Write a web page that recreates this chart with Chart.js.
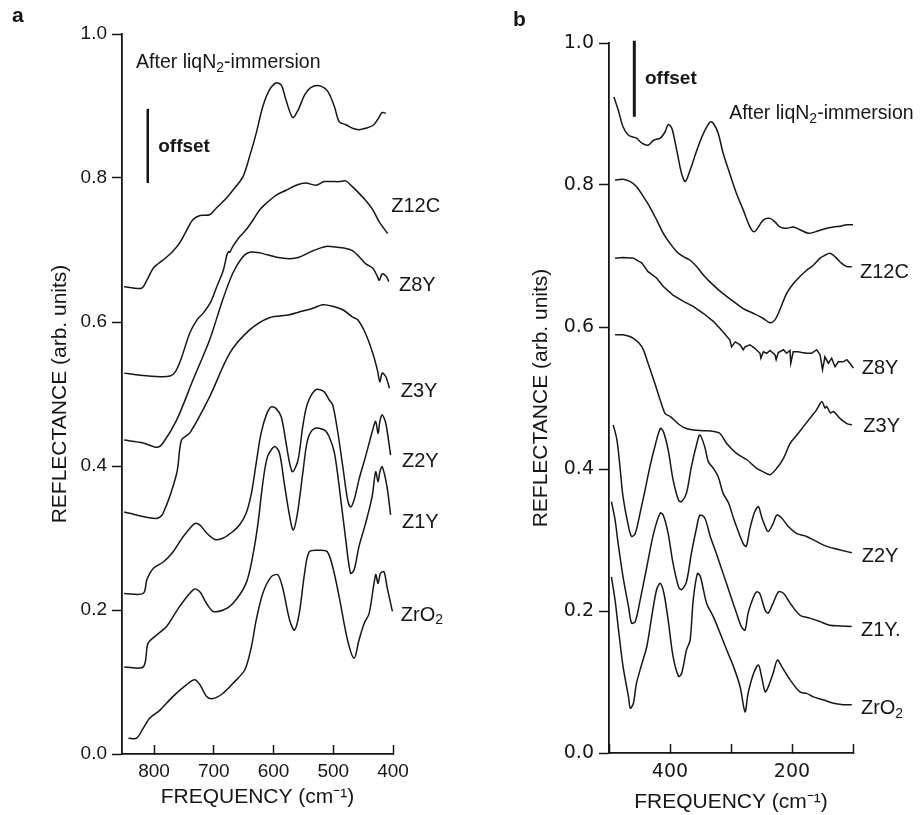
<!DOCTYPE html>
<html>
<head>
<meta charset="utf-8">
<script src="https://cdn.jsdelivr.net/npm/chart.js@4.4.1/dist/chart.umd.min.js"></script>
<style>
  body { margin: 0; background: #fff; }
  #wrap { position: relative; width: 923px; height: 815px; }
  canvas { position: absolute; top: 0; }
  #chartA { left: 0; }
  #chartB { left: 460px; }
</style>
</head>
<body>
<div id="wrap">
  <canvas id="chartA" width="460" height="815"></canvas>
  <canvas id="chartB" width="463" height="815"></canvas>
</div>
<script>
// ---- panel a : 400-850 cm-1, [frequency, reflectance] ----
const aLiq = [[850,0.649],[821,0.647],[812,0.658],[801,0.675],[785,0.686],[770,0.697],[757,0.710],[745,0.728],[735,0.742],[723,0.748],[707,0.749],[696,0.758],[679,0.772],[668,0.783],[651,0.802],[640,0.830],[629,0.862],[618,0.899],[607,0.922],[596,0.932],[587,0.929],[579,0.908],[568,0.884],[559,0.894],[548,0.915],[537,0.926],[523,0.928],[509,0.920],[498,0.899],[490,0.878],[479,0.874],[468,0.869],[457,0.867],[446,0.869],[432,0.874],[423,0.885],[418,0.891],[412,0.890]];
const aZ12C = [[850,0.529],[823,0.526],[790,0.524],[773,0.525],[765,0.530],[755,0.548],[740,0.585],[728,0.603],[718,0.612],[705,0.628],[695,0.649],[684,0.672],[678,0.693],[675,0.698],[673,0.697],[668,0.705],[657,0.718],[646,0.728],[634,0.742],[623,0.756],[612,0.765],[596,0.776],[579,0.783],[562,0.790],[546,0.793],[529,0.790],[515,0.795],[501,0.795],[490,0.795],[479,0.796],[468,0.788],[457,0.779],[446,0.769],[434,0.756],[423,0.739],[409,0.723]];
const aZ8Y = [[850,0.436],[818,0.432],[795,0.426],[785,0.432],[762,0.464],[735,0.519],[707,0.575],[685,0.631],[668,0.668],[652,0.690],[640,0.697],[623,0.696],[595,0.690],[573,0.688],[557,0.690],[534,0.699],[512,0.705],[496,0.704],[479,0.702],[468,0.699],[457,0.691],[446,0.681],[434,0.675],[426,0.663],[423,0.658],[418,0.667],[411,0.663],[407,0.656]];
const aZ3Y = [[850,0.336],[796,0.327],[785,0.334],[762,0.390],[754,0.436],[740,0.446],[707,0.496],[673,0.557],[640,0.589],[607,0.606],[573,0.610],[557,0.614],[534,0.619],[518,0.624],[501,0.622],[484,0.617],[468,0.607],[459,0.603],[446,0.584],[434,0.557],[426,0.533],[422,0.517],[418,0.529],[412,0.524],[406,0.508]];
const aZ2Y = [[850,0.223],[818,0.223],[812,0.242],[801,0.258],[784,0.267],[768,0.281],[751,0.302],[732,0.320],[723,0.318],[712,0.307],[698,0.298],[684,0.300],[668,0.309],[657,0.318],[646,0.334],[637,0.362],[629,0.404],[621,0.445],[612,0.471],[604,0.482],[596,0.480],[587,0.468],[579,0.432],[573,0.404],[568,0.392],[559,0.408],[551,0.455],[543,0.487],[529,0.506],[515,0.503],[507,0.492],[501,0.485],[493,0.450],[484,0.399],[476,0.353],[471,0.343],[465,0.353],[457,0.381],[446,0.413],[434,0.450],[429,0.462],[425,0.445],[422,0.462],[418,0.471],[412,0.459],[404,0.415]];
const aZ1Y = [[850,0.121],[818,0.121],[810,0.154],[796,0.165],[779,0.177],[757,0.205],[733,0.229],[723,0.225],[712,0.209],[701,0.198],[684,0.200],[668,0.209],[646,0.237],[635,0.274],[626,0.320],[618,0.376],[610,0.413],[598,0.427],[590,0.418],[582,0.376],[573,0.330],[567,0.311],[560,0.334],[551,0.390],[543,0.436],[532,0.452],[515,0.450],[507,0.441],[498,0.418],[490,0.371],[479,0.297],[471,0.251],[465,0.256],[457,0.288],[446,0.320],[435,0.357],[429,0.392],[425,0.378],[422,0.392],[418,0.399],[410,0.371],[404,0.332]];
const aZrO2 = [[843,0.022],[829,0.022],[818,0.036],[807,0.050],[790,0.061],[768,0.080],[746,0.096],[732,0.103],[723,0.096],[712,0.080],[701,0.077],[685,0.084],[668,0.098],[648,0.117],[637,0.149],[629,0.186],[618,0.223],[604,0.246],[593,0.249],[585,0.232],[573,0.186],[565,0.172],[557,0.195],[548,0.251],[540,0.281],[523,0.283],[510,0.281],[501,0.260],[490,0.218],[476,0.158],[465,0.133],[457,0.158],[448,0.182],[440,0.195],[429,0.249],[425,0.237],[421,0.251],[415,0.253],[410,0.232],[401,0.198]];
const aOffsetBar = [[810.5,0.793],[810.5,0.896]];

// ---- panel b : 100-500 cm-1 ----
const bLiq = [[492,0.924],[485,0.906],[477,0.882],[468,0.870],[455,0.866],[446,0.859],[436,0.856],[427,0.863],[416,0.866],[408,0.875],[403,0.885],[397,0.880],[389,0.849],[381,0.816],[375,0.805],[367,0.821],[356,0.849],[345,0.873],[334,0.889],[329,0.887],[321,0.873],[313,0.845],[302,0.816],[291,0.788],[280,0.765],[269,0.741],[262,0.734],[255,0.741],[247,0.751],[236,0.753],[228,0.748],[220,0.741],[209,0.739],[198,0.741],[187,0.737],[173,0.732],[162,0.734],[151,0.737],[143,0.739],[132,0.741],[121,0.742],[110,0.744],[100,0.744]];
const bZ12C = [[490,0.807],[477,0.808],[466,0.805],[455,0.798],[444,0.784],[433,0.769],[422,0.751],[411,0.732],[400,0.718],[389,0.706],[378,0.699],[367,0.694],[356,0.685],[345,0.673],[329,0.659],[313,0.647],[296,0.636],[280,0.626],[263,0.619],[247,0.612],[236,0.606],[228,0.610],[220,0.624],[209,0.647],[198,0.661],[187,0.671],[176,0.680],[165,0.687],[154,0.697],[146,0.701],[138,0.704],[132,0.701],[127,0.697],[119,0.690],[110,0.685],[102,0.685]];
const bZ8Y = [[490,0.697],[477,0.698],[460,0.697],[446,0.690],[436,0.678],[422,0.669],[411,0.657],[395,0.645],[378,0.636],[362,0.629],[345,0.619],[329,0.608],[318,0.598],[302,0.582],[299,0.572],[293,0.579],[285,0.575],[280,0.568],[277,0.572],[269,0.575],[261,0.570],[252.5,0.563],[251,0.556],[247,0.565],[241.5,0.563],[236,0.567],[228,0.561],[226,0.554],[222.5,0.564],[214,0.568],[209,0.563],[203.3,0.567],[202,0.549],[198,0.565],[190,0.565],[184,0.564],[176,0.563],[168,0.563],[159.5,0.568],[154,0.561],[150,0.540],[146,0.558],[140.5,0.549],[135,0.556],[129.5,0.544],[124,0.551],[116,0.551],[110,0.554],[105,0.549],[99.5,0.542]];
const bZ3Y = [[490,0.589],[477,0.589],[460,0.584],[446,0.572],[436,0.549],[425,0.521],[416,0.497],[408,0.478],[400,0.474],[384,0.462],[373,0.457],[362,0.455],[345,0.454],[329,0.453],[318,0.450],[307,0.436],[291,0.422],[274,0.413],[258,0.401],[247,0.396],[236,0.392],[225,0.401],[214,0.415],[203,0.436],[192,0.448],[181,0.460],[171,0.471],[160,0.483],[151,0.495],[146,0.486],[143,0.488],[137,0.479],[132,0.481],[121,0.471],[110,0.464],[102,0.462]];
const bZ2Y = [[493,0.462],[487,0.441],[482,0.403],[477,0.361],[468,0.319],[463,0.305],[457,0.309],[449,0.338],[441,0.370],[433,0.403],[425,0.431],[416,0.457],[411,0.453],[403,0.427],[395,0.385],[386,0.356],[381,0.354],[373,0.366],[365,0.403],[356,0.436],[351,0.448],[343,0.431],[337,0.410],[329,0.401],[321,0.389],[313,0.366],[304,0.352],[296,0.331],[288,0.312],[280,0.295],[275,0.291],[269,0.316],[261,0.340],[255,0.347],[250,0.333],[244,0.319],[239,0.312],[231,0.323],[225,0.335],[217,0.331],[206,0.319],[192,0.309],[176,0.305],[160,0.298],[143,0.291],[121,0.286],[102,0.282]];
const bZ1Y = [[496,0.354],[490,0.328],[485,0.295],[477,0.248],[468,0.206],[463,0.183],[457,0.185],[449,0.215],[438,0.262],[427,0.309],[416,0.338],[411,0.335],[403,0.309],[395,0.267],[386,0.234],[381,0.230],[373,0.241],[365,0.281],[356,0.319],[351,0.335],[343,0.331],[334,0.305],[324,0.281],[313,0.253],[302,0.225],[291,0.197],[283,0.178],[277,0.173],[272,0.197],[263,0.220],[258,0.227],[253,0.225],[244,0.201],[239,0.197],[231,0.211],[222,0.227],[214,0.225],[203,0.211],[187,0.194],[171,0.190],[154,0.185],[138,0.180],[121,0.179],[102,0.178]];
const bZrO2 = [[496,0.248],[490,0.215],[485,0.178],[477,0.122],[468,0.079],[465,0.063],[460,0.070],[455,0.098],[446,0.126],[438,0.150],[430,0.192],[422,0.230],[416,0.239],[410,0.225],[403,0.187],[395,0.136],[386,0.108],[381,0.112],[373,0.145],[367,0.159],[362,0.215],[355,0.253],[350,0.248],[340,0.211],[329,0.192],[318,0.169],[307,0.145],[296,0.122],[285,0.093],[277,0.058],[272,0.084],[263,0.112],[255,0.124],[250,0.108],[244,0.086],[239,0.093],[231,0.112],[224,0.131],[217,0.122],[203,0.103],[187,0.086],[176,0.084],[165,0.079],[149,0.075],[132,0.070],[116,0.068],[102,0.068]];
const bOffsetBar = [[458.5,1.003],[458.5,0.896]];

// "_2" marks a subscript when the note is drawn
const sampleNames = ['Z12C', 'Z8Y', 'Z3Y', 'Z2Y', 'Z1Y', 'ZrO_2'];
const reflTicks = [0, 0.2, 0.4, 0.6, 0.8, 1.0];
const freqTicksA = [400, 500, 600, 700, 800];
const freqTicksB = [100, 200, 300, 400, 500];
const freqLabelsB = [200, 400];

const fam = '"Liberation Sans", Arial, sans-serif';
Chart.defaults.font.family = fam;
Chart.defaults.color = '#111';

const ink = '#161616';

function curve(points, width, tension) {
  return {
    data: points.map(p => ({ x: p[0], y: p[1] })),
    borderColor: ink,
    borderWidth: width || 1.5,
    pointRadius: 0,
    tension: tension === undefined ? 0.3 : tension,
    fill: false,
    clip: false
  };
}

function drawRich(ctx, str, x, y, size, weight) {
  const parts = str.split(/_(\d)/);
  let cx = x;
  parts.forEach((p, i) => {
    if (!p) return;
    const sub = i % 2 === 1;
    ctx.font = weight + ' ' + (sub ? Math.round(size * 0.72) : size) + 'px ' + fam;
    ctx.fillText(p, cx, sub ? y + size * 0.28 : y);
    cx += ctx.measureText(p).width;
  });
}

// text written inside the figure, placed in data units
const notes = {
  id: 'notes',
  afterDatasetsDraw(chart, args, opts) {
    const { ctx, scales: { x, y } } = chart;
    ctx.save();
    ctx.fillStyle = ink;
    ctx.textBaseline = 'middle';
    ctx.textAlign = 'left';
    opts.items.forEach(it => {
      drawRich(ctx, it.text, x.getPixelForValue(it.x), y.getPixelForValue(it.y), it.size, it.weight || 'normal');
    });
    drawRich(ctx, opts.letter[0], opts.letter[1], opts.letter[2], 21, 'bold');
    ctx.restore();
  }
};

function scales(xMin, xMax, xTicks, xLabels, yWidth, xHeight, yTitlePad, xTitlePad, tickFamily, xTickPad) {
  return {
    x: {
      type: 'linear',
      reverse: true,
      min: xMin,
      max: xMax,
      afterBuildTicks: s => { s.ticks = xTicks.map(v => ({ value: v })); },
      afterFit: s => { s.height = xHeight; },
      ticks: {
        color: ink,
        font: { size: 19, family: tickFamily },
        padding: xTickPad,
        maxRotation: 0,
        autoSkip: false,
        callback: v => (xLabels.includes(v) ? String(v) : '')
      },
      grid: { drawOnChartArea: false, tickLength: -9, tickColor: ink, tickWidth: 1.5 },
      border: { color: ink, width: 1.8 },
      title: {
        display: true,
        text: 'FREQUENCY (cm\u207B\u00B9)',
        color: ink,
        font: { size: 21 },
        padding: { top: 0, bottom: xTitlePad }
      }
    },
    y: {
      min: 0,
      max: 1,
      afterBuildTicks: s => { s.ticks = reflTicks.map(v => ({ value: v })); },
      afterFit: s => { s.width = yWidth; },
      ticks: { color: ink, font: { size: 19, family: tickFamily }, padding: 5, callback: v => v.toFixed(1) },
      grid: { drawOnChartArea: false, tickLength: 10, tickColor: ink, tickWidth: 1.5 },
      border: { color: ink, width: 1.8 },
      title: {
        display: true,
        text: 'REFLECTANCE (arb. units)',
        color: ink,
        font: { size: 21 },
        padding: { top: yTitlePad, bottom: 0 }
      }
    }
  };
}

new Chart(document.getElementById('chartA'), {
  type: 'line',
  data: {
    datasets: [aLiq, aZ12C, aZ8Y, aZ3Y, aZ2Y, aZ1Y, aZrO2].map(p => curve(p))
      .concat([curve(aOffsetBar, 2.5, 0)])
  },
  options: {
    responsive: false,
    animation: false,
    layout: { padding: { left: 0, right: 67, top: 34, bottom: 0 } },
    scales: scales(400, 853.6, freqTicksA, freqTicksA, 122, 61, 48, 5, fam, 15),
    plugins: {
      legend: { display: false },
      tooltip: { enabled: false },
      notes: {
        letter: ['a', 12, 16],
        items: [
          { text: 'After liqN_2-immersion', x: 830, y: 0.960, size: 19.5 },
          { text: 'offset', x: 793, y: 0.843, size: 19, weight: 'bold' },
          { text: sampleNames[0], x: 403, y: 0.760, size: 20 },
          { text: sampleNames[1], x: 390, y: 0.651, size: 20 },
          { text: sampleNames[2], x: 387, y: 0.503, size: 20 },
          { text: sampleNames[3], x: 385, y: 0.406, size: 20 },
          { text: sampleNames[4], x: 385, y: 0.321, size: 20 },
          { text: sampleNames[5], x: 387, y: 0.193, size: 20 }
        ]
      }
    }
  },
  plugins: [notes]
});

new Chart(document.getElementById('chartB'), {
  type: 'line',
  data: {
    datasets: [bLiq, bZ12C].map(p => curve(p))
      .concat([curve(bZ8Y, 1.5, 0)])
      .concat([bZ3Y, bZ2Y, bZ1Y, bZrO2].map(p => curve(p)))
      .concat([curve(bOffsetBar, 3, 0)])
  },
  options: {
    responsive: false,
    animation: false,
    layout: { padding: { left: 0, right: 70, top: 43, bottom: 0 } },
    scales: scales(100, 500, freqTicksB, freqLabelsB, 149, 62, 69, 0, '"DejaVu Sans", sans-serif', 17),
    plugins: {
      legend: { display: false },
      tooltip: { enabled: false },
      notes: {
        letter: ['b', 53, 20],
        items: [
          { text: 'After liqN_2-immersion', x: 303, y: 0.901, size: 19.5 },
          { text: 'offset', x: 441, y: 0.949, size: 19, weight: 'bold' },
          { text: sampleNames[0], x: 88.5, y: 0.677, size: 20 },
          { text: sampleNames[1], x: 85.7, y: 0.542, size: 20 },
          { text: sampleNames[2], x: 83, y: 0.460, size: 20 },
          { text: sampleNames[3], x: 85.7, y: 0.277, size: 20 },
          { text: sampleNames[4] + '.', x: 87, y: 0.173, size: 20 },
          { text: sampleNames[5], x: 87, y: 0.063, size: 20 }
        ]
      }
    }
  },
  plugins: [notes]
});
</script>
</body>
</html>
